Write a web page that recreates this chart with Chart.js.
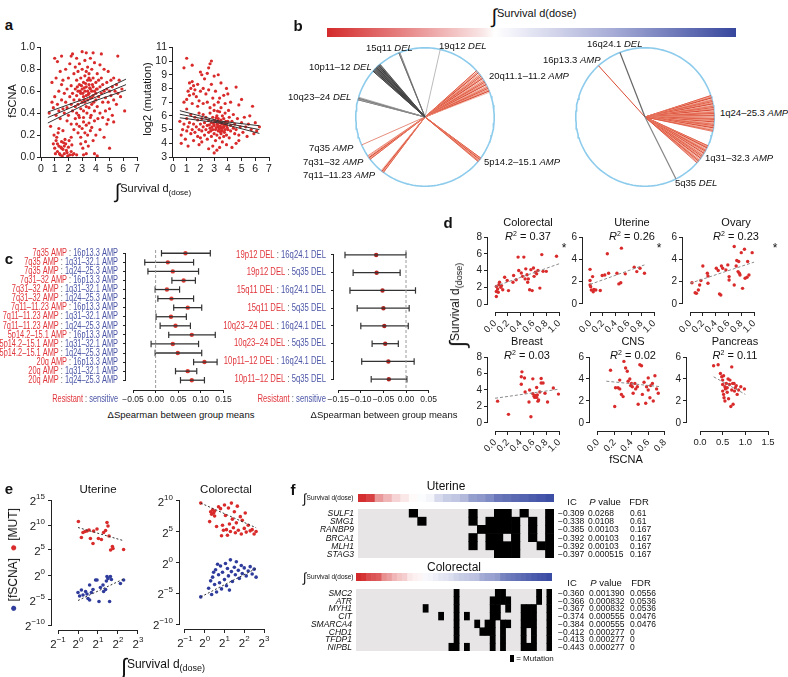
<!DOCTYPE html>
<html><head><meta charset="utf-8">
<script src="https://cdn.jsdelivr.net/npm/chart.js@4.4.1/dist/chart.umd.min.js"></script>
<style>
body{margin:0;background:#fff;}
#fig{position:relative;width:788px;height:677px;overflow:hidden;font-family:"Liberation Sans",Arial,Helvetica,sans-serif;color:#111;}
#fig canvas{position:absolute;}
.t{position:absolute;white-space:nowrap;line-height:1;}
</style></head><body><div id="fig"></div><script>
// ---- panel a: survival vs fSCNA / log2(mutation) ----
const aTicksX = [0, 1, 2, 3, 4, 5, 6, 7];
const aTicksFscna = [0, 0.2, 0.4, 0.6, 0.8, 1.0];
const aTicksMut = [3, 4, 5, 6, 7, 8, 9, 10, 11];
const aFscna = [
  [0.9,0.12],[1.0,0.08],[1.1,0.15],[1.2,0.05],[1.3,0.1],[1.4,0.02],[1.5,0.14],[1.6,0.07],[1.7,0.03],[1.8,0.12],
  [1.9,0.04],[2.0,0.09],[2.1,0.02],[1.15,0.18],[1.35,0.03],[1.55,0.01],[1.75,0.16],[1.95,0.01],[2.2,0.05],[2.3,0.02],
  [1.05,0.03],[0.95,0.2],[1.25,0.22],[1.45,0.09],[1.65,0.13],[1.85,0.06],[2.05,0.15],[2.25,0.11],[2.4,0.03],[2.6,0.02],
  [3.1,0.02],[3.3,0.03],[3.9,0.03],[4.1,0.01],[1.3,0.26],[1.6,0.24],[1.2,0.12],[1.5,0.08],[1.7,0.1],[2.2,0.18],
  [2.4,0.25],[2.6,0.3],[2.7,0.22],[2.8,0.28],[2.9,0.18],[3.0,0.26],[3.1,0.32],[3.2,0.22],[3.3,0.29],[3.4,0.2],
  [3.5,0.31],[3.6,0.24],[3.7,0.27],[3.8,0.15],[2.5,0.35],[2.9,0.12],[3.05,0.08],[3.25,0.14],[3.45,0.1],[4.0,0.2],
  [4.3,0.25],[4.6,0.18],[5.0,0.08],[5.3,0.32],[4.8,0.3],[2.2,0.3],[1.9,0.33],[3.9,0.33],[3.6,0.36],[2.75,0.38],
  [0.6,0.4],[0.7,0.28],[0.8,0.5],[0.8,0.68],[0.9,0.45],[1.0,0.9],[1.0,0.55],[1.1,0.38],[1.1,0.72],[1.2,0.48],
  [1.2,0.87],[1.3,0.6],[1.3,0.42],[1.4,0.78],[1.4,0.35],[1.5,0.52],[1.5,0.66],[1.6,0.44],[1.6,0.7],[1.7,0.58],
  [1.7,0.4],[1.8,0.8],[1.8,0.5],[1.9,0.62],[1.9,0.45],[2.0,0.72],[2.0,0.38],[2.1,0.55],[2.1,0.85],[2.2,0.48],
  [2.2,0.65],[2.3,0.94],[2.3,0.58],[2.3,0.42],[2.4,0.76],[2.4,0.52],[2.5,0.62],[2.5,0.82],[2.5,0.46],[2.6,0.56],
  [2.6,0.7],[2.6,0.9],[2.7,0.6],[2.7,0.48],[2.7,0.78],[2.8,0.52],[2.8,0.66],[2.8,0.85],[2.9,0.58],[2.9,0.44],
  [2.9,0.72],[3.0,0.62],[3.0,0.5],[3.0,0.8],[3.0,0.96],[3.1,0.55],[3.1,0.68],[3.1,0.42],[3.2,0.6],[3.2,0.74],
  [3.2,0.5],[3.2,0.88],[3.3,0.56],[3.3,0.64],[3.3,0.46],[3.3,0.95],[3.4,0.6],[3.4,0.7],[3.4,0.52],[3.4,0.82],
  [3.5,0.58],[3.5,0.66],[3.5,0.45],[3.5,0.76],[3.6,0.62],[3.6,0.54],[3.6,0.9],[3.6,0.7],[3.7,0.6],[3.7,0.48],
  [3.7,0.8],[3.8,0.64],[3.8,0.56],[3.8,0.72],[3.9,0.6],[3.9,0.42],[3.9,0.86],[4.0,0.68],[4.0,0.52],[4.0,0.58],
  [4.1,0.62],[4.1,0.76],[4.1,0.46],[4.2,0.55],[4.2,0.7],[4.3,0.64],[4.3,0.4],[4.3,0.84],[4.4,0.58],[4.4,0.72],
  [4.5,0.5],[4.5,0.66],[4.6,0.6],[4.6,0.8],[4.7,0.54],[4.7,0.42],[4.8,0.68],[4.8,0.62],[4.9,0.5],[4.9,0.78],
  [5.0,0.6],[5.0,0.44],[5.1,0.7],[5.1,0.56],[5.2,0.64],[5.3,0.52],[5.3,0.72],[5.4,0.6],[5.5,0.48],[5.5,0.66],
  [5.6,0.58],[5.7,0.7],[5.8,0.55],[5.9,0.62],[6.1,0.42],[5.6,0.92],[4.4,0.94],[3.8,0.95],[4.5,0.36],[5.2,0.38],
  [4.9,0.34],[2.2,0.92],[1.5,0.92],[2.6,0.4],[2.8,0.36],[3.1,0.36],[3.35,0.4],[3.65,0.38],[4.15,0.35],[3.15,0.63],
  [3.45,0.57],[3.55,0.63],[3.25,0.67],[3.75,0.66],[2.95,0.65],[3.05,0.58],[3.85,0.5],[2.85,0.6],[3.15,0.52],[3.7,0.54],
  [3.5,0.72],[3.3,0.78],[2.65,0.64],[4.05,0.62]
];
const aMut = [
  [1.0,10.2],[0.8,9.5],[1.4,9.7],[2.0,9.2],[2.1,9.0],[2.7,9.8],[2.8,10.0],[2.6,9.5],[2.5,9.1],[3.0,8.9],
  [3.3,9.0],[2.3,8.7],[1.2,8.4],[1.4,8.5],[1.5,8.2],[1.3,8.0],[1.6,7.9],[1.1,7.8],[1.8,8.3],[1.0,7.2],
  [1.2,7.5],[1.5,7.6],[1.7,7.4],[1.9,7.1],[2.0,7.8],[2.2,8.0],[2.4,7.6],[2.6,7.9],[2.8,8.3],[2.9,7.3],
  [3.1,7.8],[3.3,7.0],[3.5,8.4],[3.7,7.5],[3.9,8.0],[4.2,7.0],[4.6,8.1],[5.0,7.2],[4.8,6.8],[2.2,6.9],
  [2.5,7.0],[2.7,6.6],[3.0,6.8],[1.4,6.9],[1.0,6.5],[0.8,7.0],[3.4,7.3],[3.8,6.9],[4.0,7.6],[1.8,6.7],
  [0.5,5.6],[0.6,4.6],[0.7,5.0],[0.8,5.4],[0.9,4.3],[1.0,5.8],[1.0,4.9],[1.1,5.2],[1.1,3.8],[1.2,5.5],
  [1.3,4.7],[1.3,6.1],[1.4,5.0],[1.5,5.4],[1.5,4.2],[1.6,5.9],[1.6,4.8],[1.7,5.2],[1.8,4.5],[1.8,5.7],
  [1.9,5.0],[1.9,6.2],[2.0,5.4],[2.0,4.4],[2.1,5.8],[2.1,4.9],[2.2,5.2],[2.2,6.1],[2.3,4.6],[2.3,5.5],
  [2.4,5.0],[2.4,5.9],[2.5,4.3],[2.5,5.3],[2.6,5.7],[2.6,4.8],[2.7,5.1],[2.7,6.2],[2.8,4.5],[2.8,5.5],
  [2.9,5.0],[2.9,5.9],[3.0,4.7],[3.0,5.3],[3.0,6.4],[3.1,5.6],[3.1,4.2],[3.1,5.0],[3.2,5.4],[3.2,6.0],
  [3.2,4.6],[3.3,5.2],[3.3,5.8],[3.3,4.9],[3.4,5.5],[3.4,4.4],[3.4,6.3],[3.5,5.1],[3.5,5.7],[3.5,4.7],
  [3.6,5.4],[3.6,6.0],[3.6,4.9],[3.7,5.2],[3.7,5.8],[3.7,4.5],[3.8,5.5],[3.8,5.0],[3.8,6.2],[3.9,5.3],
  [3.9,4.6],[4.0,5.6],[4.0,5.0],[4.1,5.9],[4.1,4.4],[4.2,5.3],[4.2,4.9],[4.3,5.6],[4.4,5.1],[4.4,6.1],
  [4.5,4.7],[4.5,5.4],[4.6,5.0],[4.7,5.8],[4.8,4.6],[4.9,5.2],[5.0,5.5],[5.1,4.8],[5.2,5.9],[5.3,5.2],
  [5.4,4.5],[5.5,5.4],[5.6,6.0],[5.7,5.0],[5.9,4.7],[6.0,5.5],[6.1,4.9],[6.3,5.2],[5.8,6.7],[3.4,3.7],
  [2.9,3.8],[3.0,3.3],[3.9,3.9],[4.3,3.7],[4.6,4.0],[2.6,3.6],[1.9,3.9],[3.2,3.5],[4.8,4.2],[0.6,4.0],
  [2.1,4.1],[3.6,4.1],[3.15,5.15],[3.25,5.35],[3.35,5.05],[3.45,5.25],[3.55,5.45],[3.65,5.15],[3.75,5.35],[3.85,5.6],
  [2.95,5.45],[3.05,5.65],[3.15,5.85],[3.35,5.6],[3.45,4.85],[3.55,4.95],[3.75,4.8],[3.95,5.15],[2.85,5.2],[2.75,4.9],
  [2.65,5.35],[3.25,6.35],[3.5,6.6],[4.05,6.4]
];
const aFitX = [0.5, 3.3, 6.2];
const aFscnaLo = [0.31, 0.485, 0.61], aFscnaMid = [0.36, 0.51, 0.66], aFscnaHi = [0.41, 0.535, 0.71];
const aMutFitX = [0.5, 3.4, 6.3];
const aMutLo = [5.86, 5.48, 4.72], aMutMid = [6.12, 5.55, 5.0], aMutHi = [6.38, 5.62, 5.28];

// ---- panel b: fan angles (degrees clockwise from top) ----
const b15q11 = [-22.2, -21.3];
const b19q12 = [12.7];
const b10p11 = [-48.6, -47.9, -47.1, -46.4, -45.8, -45.0, -44.3, -43.7, -43.0, -42.3, -41.7, -41.0, -40.4];
const b10q23 = [-75.6, -74.9, -74.2, -73.4];
const b20q = [48.1, 49.3, 50.4, 51.7, 52.8, 54.0, 55.2, 56.2, 57.5, 58.7, 59.8, 61.0, 62.1, 63.4, 64.5, 65.6, 66.8, 67.9, 69.0];
const b5p = [126.4, 127.2, 128.0, 128.7, 129.4, 130.1];
const b7q35 = [-113.8];
const b7q31 = [-127.6, -126.7, -125.9, -125.0, -124.1];
const b7q11 = [-143.1, -142.3, -141.5, -140.7];
const b16q24 = [-21.2];
const b5q35 = [153.4];
const b16p13 = [-42.2];
const b1q24 = [72.0, 73.1, 74.0, 75.1, 76.0, 77.1, 78.0, 79.0, 80.1, 81.0, 82.1, 83.0, 84.0, 85.1, 86.0, 87.0, 88.1, 89.0, 90.0, 91.1, 92.0, 93.0, 94.1, 95.0, 96.0, 97.1, 98.0, 99.0, 100.0, 101.1, 102.0];
const b1q31 = [114.6, 115.6, 116.5, 117.5, 118.6, 119.5, 120.5, 121.6, 122.5, 123.5, 124.6, 125.5, 126.5, 127.5, 128.6, 129.5, 130.5, 131.4];
const bGradStops = [[0, '#d42b2b'], [0.2, '#e88a8a'], [0.38, '#f9e6e6'], [0.41, '#ffffff'], [0.45, '#f3f3fa'], [0.7, '#a6acd6'], [1, '#37479d']];

// ---- panel c: forest plots ----
const cAmpRes = ['7q35 AMP','7q35 AMP','7q35 AMP','7q31–32 AMP','7q31–32 AMP','7q31–32 AMP','7q11–11.23 AMP','7q11–11.23 AMP','7q11–11.23 AMP','5p14.2–15.1 AMP','5p14.2–15.1 AMP','5p14.2–15.1 AMP','20q AMP','20q AMP','20q AMP'];
const cAmpSen = ['16p13.3 AMP','1q31–32.1 AMP','1q24–25.3 AMP','16p13.3 AMP','1q31–32.1 AMP','1q24–25.3 AMP','16p13.3 AMP','1q31–32.1 AMP','1q24–25.3 AMP','16p13.3 AMP','1q31–32.1 AMP','1q24–25.3 AMP','16p13.3 AMP','1q31–32.1 AMP','1q24–25.3 AMP'];
const cAmpMean = [0.066, 0.027, 0.038, 0.062, 0.025, 0.035, 0.071, 0.034, 0.044, 0.080, 0.038, 0.049, 0.108, 0.071, 0.080];
const cAmpLo = [0.013, -0.024, -0.017, 0.036, -0.001, 0.005, 0.040, 0.001, 0.010, 0.029, -0.010, -0.001, 0.084, 0.044, 0.055];
const cAmpHi = [0.121, 0.084, 0.095, 0.088, 0.053, 0.084, 0.102, 0.068, 0.077, 0.132, 0.095, 0.102, 0.136, 0.091, 0.108];
const cAmpTicks = [-0.05, 0, 0.05, 0.10, 0.15];
const cDelRes = ['19p12 DEL','19p12 DEL','15q11 DEL','15q11 DEL','10q23–24 DEL','10q23–24 DEL','10p11–12 DEL','10p11–12 DEL'];
const cDelSen = ['16q24.1 DEL','5q35 DEL','16q24.1 DEL','5q35 DEL','16q24.1 DEL','5q35 DEL','16q24.1 DEL','5q35 DEL'];
const cDelMean = [-0.066, -0.065, -0.052, -0.050, -0.048, -0.046, -0.039, -0.038];
const cDelLo = [-0.135, -0.117, -0.124, -0.108, -0.100, -0.075, -0.098, -0.077];
const cDelHi = [0.000, -0.013, 0.021, 0.007, 0.005, -0.017, 0.018, 0.002];
const cDelTicks = [-0.15, -0.10, -0.05, 0, 0.05];

// ---- panel d: survival vs fSCNA by tissue ----
const dColorectal = [[0.02,0.9],[0.02,1.5],[0.02,2.1],[0.04,1.8],[0.06,2.3],[0.07,2.6],[0.1,2.2],[0.12,1.7],[0.15,3.2],[0.19,2.8],[0.21,1.6],[0.28,2.6],[0.29,3.4],[0.36,5.6],[0.37,4.0],[0.41,3.7],[0.43,3.3],[0.45,5.6],[0.47,3.0],[0.48,4.2],[0.5,3.5],[0.51,2.6],[0.52,3.0],[0.54,1.7],[0.58,1.6],[0.6,4.3],[0.61,3.3],[0.63,3.8],[0.65,3.6],[0.67,4.0],[0.7,1.9],[0.73,5.9],[0.75,3.9],[0.8,3.9],[0.96,5.7],[0.05,1.4],[0.09,2.0],[0.33,2.9],[0.56,4.1]];
const dUterine = [[0.0,3.1],[0.0,2.1],[0.0,1.7],[0.01,1.55],[0.02,1.25],[0.05,1.1],[0.06,1.3],[0.09,1.25],[0.04,2.45],[0.16,1.2],[0.19,2.55],[0.23,2.6],[0.27,4.5],[0.29,2.75],[0.42,2.75],[0.45,1.8],[0.48,1.9],[0.49,5.0],[0.55,2.7],[0.69,3.3],[0.73,2.9],[0.78,3.2],[0.85,2.75]];
const dOvary = [[0.03,1.9],[0.08,1.0],[0.1,0.95],[0.13,1.25],[0.15,1.7],[0.17,2.1],[0.2,3.4],[0.27,2.75],[0.28,2.5],[0.28,1.85],[0.41,3.2],[0.44,3.0],[0.46,0.9],[0.48,0.8],[0.49,3.4],[0.51,3.2],[0.56,3.05],[0.59,3.5],[0.61,2.45],[0.61,2.15],[0.69,5.15],[0.69,1.7],[0.72,3.4],[0.73,3.9],[0.76,3.8],[0.77,2.75],[0.78,2.6],[0.8,4.6],[0.82,1.4],[0.85,4.9],[0.86,2.3],[0.89,2.4],[0.92,2.6],[0.97,4.6],[0.9,3.8],[0.75,2.9]];
const dBreast = [[0.04,2.65],[0.21,1.05],[0.42,6.2],[0.41,5.6],[0.41,4.7],[0.46,5.45],[0.47,3.75],[0.53,2.55],[0.54,4.0],[0.56,0.75],[0.59,5.35],[0.59,3.55],[0.61,3.25],[0.62,3.1],[0.63,3.35],[0.65,3.1],[0.66,3.4],[0.67,2.65],[0.68,2.8],[0.7,3.75],[0.72,5.4],[0.72,4.85],[0.75,4.85],[0.78,3.6],[0.82,2.55],[0.91,4.25],[0.99,3.5],[0.65,4.3]];
const dCNS = [[0.15,4.8],[0.2,1.5],[0.21,3.2],[0.24,3.2],[0.26,3.1],[0.28,2.6],[0.3,2.4],[0.31,5.6],[0.33,5.0],[0.35,4.7],[0.36,3.8],[0.38,4.0],[0.39,3.4],[0.41,3.3],[0.42,2.7],[0.44,3.6],[0.45,3.1],[0.47,3.3],[0.48,1.7],[0.5,5.3],[0.52,5.2],[0.53,2.6],[0.55,3.7],[0.57,1.8],[0.58,3.3],[0.6,4.1],[0.6,3.0],[0.62,2.3],[0.63,3.4],[0.65,3.6],[0.66,2.0],[0.68,4.3],[0.7,3.1],[0.72,2.7],[0.26,3.9],[0.4,3.6]];
const dPancreas = [[0.3,5.2],[0.4,5.3],[0.45,4.5],[0.48,4.2],[0.5,3.9],[0.52,4.3],[0.5,2.9],[0.52,2.6],[0.53,2.3],[0.55,3.3],[0.56,3.1],[0.58,3.6],[0.6,3.2],[0.6,2.8],[0.62,4.0],[0.63,2.2],[0.65,3.5],[0.66,3.9],[0.68,1.5],[0.7,5.1],[0.7,3.0],[0.72,3.6],[0.73,1.7],[0.75,3.6],[0.76,2.9],[0.78,3.2],[0.8,3.4],[0.82,2.6],[0.85,3.0],[0.9,3.3],[0.98,3.1],[0.5,3.5],[0.55,2.0]];
const dTrend = {
  colorectal: [[0, 2.1], [1.0, 4.8]], uterine: [[0, 1.75], [0.85, 3.5]], ovary: [[0, 1.85], [1.0, 3.75]],
  breast: [[0, 3.0], [1.0, 4.1]], cns: [[0.1, 3.8], [0.75, 3.3]], pancreas: [[0.3, 4.2], [1.0, 2.6]]
};
const dTicks01 = [0, 0.2, 0.4, 0.6, 0.8, 1.0];
const dTicks08 = [0, 0.2, 0.4, 0.6, 0.8];
const dTicksPan = [0, 0.5, 1.0, 1.5];

// ---- panel e: log2 values (exponents) ----
const eUtMut = [[0.02,10.7],[0.17,7.5],[0.25,8.5],[0.35,8.7],[0.45,8.8],[0.55,9.0],[0.62,7.3],[0.75,6.3],[0.78,8.8],[0.95,9.2],[1.02,7.3],[1.17,7.1],[1.28,8.5],[1.38,8.9],[1.45,10.5],[1.5,9.8],[1.55,7.8],[1.63,5.0],[1.72,5.7],[1.75,5.3],[2.28,5.1]];
const eUtScna = [[0,-3.5],[0.17,-3.0],[0.25,-4.0],[0.38,-3.3],[0.5,-4.7],[0.58,-2.0],[0.67,-3.5],[0.75,-2.9],[0.88,-1.0],[0.95,-1.0],[1.05,-5.3],[1.25,-2.0],[1.38,-2.9],[1.42,-1.2],[1.45,-0.3],[1.5,-0.7],[1.62,-0.3],[1.67,-0.9],[1.58,-5.3],[2.12,-1.7],[2.28,-1.0],[0.08,-4.2],[0.45,-3.8],[0.58,-5.0],[1.12,-2.5],[1.28,-3.3]];
const eCoMut = [[-0.2,9.6],[0.3,8.2],[0.35,7.8],[0.4,8.5],[0.45,8.0],[0.5,8.3],[0.5,7.5],[0.6,5.8],[0.7,9.0],[0.8,8.7],[0.85,4.3],[0.9,6.0],[1.0,9.3],[1.05,7.6],[1.1,5.3],[1.2,8.8],[1.25,6.2],[1.3,5.0],[1.35,9.6],[1.4,7.0],[1.45,5.6],[1.5,8.2],[1.55,4.8],[1.6,6.4],[1.65,9.1],[1.7,5.2],[1.8,7.4],[1.85,4.6],[1.9,6.8],[2.0,5.5],[2.05,8.0],[2.1,4.9],[2.2,6.0],[2.3,5.1],[2.4,5.3],[2.5,4.6],[2.6,5.0],[0.25,6.6],[1.15,4.4],[0.95,5.2]];
const eCoScna = [[-0.2,-5.6],[0.2,-4.2],[0.3,-3.0],[0.35,-5.2],[0.4,-2.4],[0.5,-3.6],[0.55,-1.2],[0.6,-4.8],[0.7,-2.0],[0.75,-3.3],[0.8,-0.6],[0.85,-4.3],[0.9,-1.6],[1.0,-2.8],[1.05,-0.2],[1.1,-3.8],[1.15,-1.0],[1.2,-2.2],[1.3,0.4],[1.35,-1.5],[1.4,-3.1],[1.5,-0.8],[1.55,-2.0],[1.6,0.1],[1.7,-1.3],[1.75,-2.6],[1.85,-0.5],[1.9,-1.8],[2.0,-0.9],[2.1,-2.2],[2.2,-1.4],[2.3,-0.7],[2.4,-1.9],[2.5,-1.1],[2.6,-2.4],[0.65,-0.3],[1.25,-4.5],[0.45,-1.6]];
const eUtTrendMut = [[0, 9.5], [2.25, 6.9]], eUtTrendScna = [[0, -5.1], [2.33, -0.7]];
const eCoTrendMut = [[-0.2, 9.6], [2.6, 5.6]], eCoTrendScna = [[-0.2, -5.6], [2.6, -1.0]];
const eTicksX = [-1, 0, 1, 2, 3];
const eTicksUtY = [-10, -5, 0, 5, 10, 15];
const eTicksCoY = [-10, -5, 0, 5, 10];

// ---- panel f: mutation heatmaps ----
const fUtGenes = ['SULF1', 'SMG1', 'RANBP9', 'BRCA1', 'MLH1', 'STAG3'];
const fUtMut = [[6,13,16,17,19,22],[7,13,15,16,17,18,20,22],[14,15,16,17,18,20,22],[13,15,16,18,20,22],[13,15,16,17,18,21,22],[16,17,18,22]];
const fUtSurv = [0.02,0.06,0.24,0.3,0.36,0.4,0.44,0.46,0.48,0.56,0.6,0.62,0.66,0.74,0.76,0.8,0.86,0.88,0.9,0.92,0.94,0.96,0.98];
const fUtIC = ['−0.309','−0.338','−0.385','−0.392','−0.392','−0.397'];
const fUtP = ['0.0268','0.0108','0.00103','0.00103','0.00103','0.000515'];
const fUtFDR = ['0.61','0.61','0.167','0.167','0.167','0.167'];
const fCoGenes = ['SMC2', 'ATR', 'MYH1', 'CIT', 'SMARCA4', 'CHD1', 'TFDP1', 'NIPBL'];
const fCoMut = [[19,27,28,35,37],[19,26,27,28,29,35,37],[13,19,26,27,29,32,33,34,37],[16,19,21,26,27,32,33,34,37],[19,23,25,26,28,29,32,33,34,37],[19,24,25,26,28,32,34,37],[19,26,28,32,34,37],[18,19,21,26,28,32,33,34,37]];
const fCoSurv = [0.01,0.03,0.08,0.1,0.12,0.22,0.25,0.3,0.33,0.35,0.4,0.42,0.43,0.47,0.48,0.5,0.52,0.53,0.55,0.58,0.6,0.61,0.63,0.64,0.7,0.72,0.73,0.75,0.82,0.84,0.86,0.88,0.9,0.92,0.94,0.96,0.97,0.99];
const fCoIC = ['−0.360','−0.366','−0.367','−0.374','−0.384','−0.412','−0.413','−0.443'];
const fCoP = ['0.001390','0.000832','0.000832','0.000555','0.000555','0.000277','0.000277','0.000277'];
const fCoFDR = ['0.0556','0.0536','0.0536','0.0476','0.0476','0','0','0'];

// ================= helpers =================
const FONT = '"Liberation Sans", Arial, Helvetica, sans-serif';
Chart.defaults.font.family = FONT;
const RED = '#d92b2b', BLUE = '#2f3c9c', LRED = '#e0353b', LBLUE = '#4b55a6';
const fig = document.getElementById('fig');

function addCanvas(l, t, w, h) {
  const c = document.createElement('canvas');
  c.width = w; c.height = h;
  c.style.left = l + 'px'; c.style.top = t + 'px';
  c.style.width = w + 'px'; c.style.height = h + 'px';
  fig.appendChild(c);
  return c;
}
function txt(x, y, html, o = {}) {
  const d = document.createElement('div');
  d.className = 't';
  d.innerHTML = html;
  d.style.left = x + 'px'; d.style.top = y + 'px';
  d.style.fontSize = (o.size || 10) + 'px';
  if (o.color) d.style.color = o.color;
  if (o.bold) d.style.fontWeight = 'bold';
  if (o.italic) d.style.fontStyle = 'italic';
  const ax = o.align === 'left' ? '0' : o.align === 'right' ? '-100%' : '-50%';
  d.style.transform = `translate(${ax},-50%)` + (o.rot ? ` rotate(${o.rot}deg)` : '');
  fig.appendChild(d);
  return d;
}
function integ(size, sub) {
  return `<span style="font-size:${Math.round(size * 1.8)}px;vertical-align:-0.28em">∫</span>Survival d` +
    (sub ? `<span style="font-size:${Math.round(size * 0.72)}px;vertical-align:-0.35em">(dose)</span>` : '(dose)');
}
const pts = arr => arr.map(p => ({ x: p[0], y: p[1] }));

// R-style axis lines running from first to last tick
const rAxes = {
  id: 'rAxes',
  afterDraw(chart) {
    const { ctx, chartArea: a, scales } = chart;
    ctx.save(); ctx.strokeStyle = '#222'; ctx.lineWidth = 1;
    const x = scales.x, y = scales.y;
    if (x && x.ticks.length) {
      const x0 = x.getPixelForValue(x.ticks[0].value), x1 = x.getPixelForValue(x.ticks[x.ticks.length - 1].value);
      ctx.beginPath(); ctx.moveTo(x0, a.bottom + 0.5); ctx.lineTo(x1, a.bottom + 0.5); ctx.stroke();
    }
    if (y && y.ticks.length) {
      const y0 = y.getPixelForValue(y.ticks[0].value), y1 = y.getPixelForValue(y.ticks[y.ticks.length - 1].value);
      ctx.beginPath(); ctx.moveTo(a.left - 0.5, y0); ctx.lineTo(a.left - 0.5, y1); ctx.stroke();
    }
    ctx.restore();
  }
};

function lin(min, max, ticks, o = {}) {
  return {
    type: 'linear', min, max, reverse: !!o.reverse,
    afterBuildTicks: s => { s.ticks = ticks.map(v => ({ value: v })); },
    grid: { drawOnChartArea: false, drawTicks: true, tickLength: o.tl || 4, color: '#222', lineWidth: 1 },
    border: { display: false },
    ticks: {
      display: o.labels !== false, color: '#222', font: { size: o.fs || 10 }, padding: o.pad ?? 2,
      autoSkip: false, minRotation: o.rot || 0, maxRotation: o.rot || 0,
      callback: o.fmt || (v => String(v))
    }
  };
}

function rChart(a, xs, ys, datasets, extra) {
  const PT = 8, PR = 16, YW = a.yw || 30, XH = a.xh || 20;
  const c = addCanvas(a.l - YW, a.t - PT, (a.r - a.l) + YW + PR, (a.b - a.t) + PT + XH);
  xs.afterFit = s => { s.height = XH; };
  ys.afterFit = s => { s.width = YW; };
  return new Chart(c, {
    type: 'scatter', data: { datasets },
    options: {
      animation: false, responsive: false, events: [],
      layout: { padding: { top: PT, right: PR, left: 0, bottom: 0 } },
      plugins: { legend: { display: false }, tooltip: { enabled: false } },
      scales: { x: xs, y: ys }
    },
    plugins: [rAxes].concat(extra || [])
  });
}
const dots = (arr, color, r) => ({ data: pts(arr), pointRadius: r || 1.7, pointBorderWidth: 0, backgroundColor: color, pointBackgroundColor: color });
const line = (arr, color, w, dash) => ({ data: pts(arr), showLine: true, pointRadius: 0, borderColor: color, borderWidth: w || 1, borderDash: dash || [] });
const zip = (xs, ys) => xs.map((x, i) => [x, ys[i]]);

// ================= panel a =================
const f1 = v => v.toFixed(1);
rChart({ l: 41, t: 47, r: 137, b: 157, yw: 30, xh: 22 },
  lin(0, 7, aTicksX, { fs: 10.5 }), lin(0, 1, aTicksFscna, { fs: 10.5, fmt: f1 }),
  [line(zip(aFitX, aFscnaHi), '#333', 1), line(zip(aFitX, aFscnaMid), '#333', 1), line(zip(aFitX, aFscnaLo), '#333', 1),
   dots(aFscna, RED, 1.6)]);
rChart({ l: 173, t: 47, r: 269, b: 157, yw: 22, xh: 22 },
  lin(0, 7, aTicksX, { fs: 10.5 }), lin(3, 11, aTicksMut, { fs: 10.5 }),
  [line(zip(aMutFitX, aMutHi), '#333', 1), line(zip(aMutFitX, aMutMid), '#333', 1), line(zip(aMutFitX, aMutLo), '#333', 1),
   dots(aMut, RED, 1.6)]);
txt(9, 24, 'a', { size: 15, bold: true });
txt(12, 101, 'fSCNA', { size: 11, rot: -90 });
txt(147, 99, 'log2 (mutation)', { size: 11, rot: -90 });
txt(153, 191, integ(11, true), { size: 11 });

// ================= panel b =================
const bar1 = (l, t, w, h, colors) => {
  const c = addCanvas(l, t, w, h);
  return new Chart(c, {
    type: 'bar',
    data: { labels: colors.map((_, i) => i), datasets: [{ data: colors.map(() => [0, 1]), backgroundColor: colors, barPercentage: 1, categoryPercentage: 1, borderWidth: 0 }] },
    options: { animation: false, responsive: false, events: [], layout: { padding: 0 },
      plugins: { legend: { display: false }, tooltip: { enabled: false } },
      scales: { x: { display: false }, y: { display: false, min: 0, max: 1 } } }
  });
};
{
  const c = addCanvas(327, 28, 409, 9);
  new Chart(c, {
    type: 'bar',
    data: { labels: [''], datasets: [{ data: [[0, 1]], barPercentage: 1, categoryPercentage: 1, borderWidth: 0,
      backgroundColor: ctx => {
        const a = ctx.chart.chartArea; if (!a) return '#ccc';
        const g = ctx.chart.ctx.createLinearGradient(a.left, 0, a.right, 0);
        bGradStops.forEach(s => g.addColorStop(s[0], s[1]));
        return g;
      } }] },
    options: { indexAxis: 'y', animation: false, responsive: false, events: [], layout: { padding: 0 },
      plugins: { legend: { display: false }, tooltip: { enabled: false } },
      scales: { x: { display: false, min: 0, max: 1 }, y: { display: false } } }
  });
}
txt(534, 16, integ(11, false), { size: 11 });
txt(298, 25, 'b', { size: 15, bold: true });

const REDS = ['#e0563e', '#ee8b73', '#d6422f', '#f2a38f', '#e56d55'];
function fan(angles, palette, w) {
  const data = [];
  angles.forEach(d => { const t = d * Math.PI / 180; data.push({ x: 0, y: 0 }, { x: Math.sin(t), y: Math.cos(t) }); });
  return { data, showLine: true, pointRadius: 0, borderWidth: w || 0.8, borderJoinStyle: 'bevel', borderColor: palette[0],
    segment: { borderColor: ctx => palette[Math.floor(ctx.p0DataIndex / 2) % palette.length] } };
}
function circleChart(cx, cy, fans) {
  const S = 144, c = addCanvas(cx - S / 2, cy - S / 2, S, S);
  const ring = [];
  for (let k = 0; k <= 144; k++) { const t = k / 144 * 2 * Math.PI; ring.push({ x: Math.sin(t), y: Math.cos(t) }); }
  const ds = fans.slice();
  ds.push({ data: ring, showLine: true, pointRadius: 0, borderColor: '#8ccbec', borderWidth: 1.6 });
  new Chart(c, {
    type: 'scatter', data: { datasets: ds },
    options: { animation: false, responsive: false, events: [], layout: { padding: 0 },
      plugins: { legend: { display: false }, tooltip: { enabled: false } },
      scales: { x: { display: false, min: -1.04, max: 1.04 }, y: { display: false, min: -1.04, max: 1.04 } } }
  });
}
circleChart(425, 117, [
  fan(b10p11, ['#3a3a3a', '#555', '#2e2e2e', '#666']), fan(b10q23, ['#777', '#999']), fan(b15q11, ['#666']), fan(b19q12, ['#aaa']),
  fan(b20q, REDS), fan(b5p, REDS), fan(b7q35, ['#e0705a']), fan(b7q31, REDS), fan(b7q11, REDS)
]);
circleChart(645, 117, [
  fan(b16q24, ['#666'], 1.2), fan(b5q35, ['#888'], 1.2), fan(b16p13, ['#d9472f'], 1), fan(b1q24, REDS), fan(b1q31, REDS)
]);
const bLab = (x, y, name, kind) => txt(x, y, `${name} <i>${kind}</i>`, { size: 9.5, align: 'left' });
bLab(366, 48, '15q11', 'DEL'); bLab(439, 46, '19q12', 'DEL'); bLab(309, 67, '10p11–12', 'DEL');
bLab(288, 97, '10q23–24', 'DEL'); bLab(489, 76, '20q11.1–11.2', 'AMP'); bLab(309, 148, '7q35', 'AMP');
bLab(303, 162, '7q31–32', 'AMP'); bLab(303, 175, '7q11–11.23', 'AMP'); bLab(484, 162, '5p14.2–15.1', 'AMP');
bLab(587, 44, '16q24.1', 'DEL'); bLab(543, 60, '16p13.3', 'AMP'); bLab(720, 113, '1q24–25.3', 'AMP');
bLab(705, 158, '1q31–32.3', 'AMP'); bLab(675, 183, '5q35', 'DEL');

// ================= panel c =================
function forestLabels(res, sen, squeeze) {
  return {
    id: 'forestLabels',
    afterDraw(chart) {
      const { ctx, chartArea: a, scales } = chart;
      ctx.save(); ctx.font = '10px ' + FONT; ctx.textBaseline = 'middle'; ctx.textAlign = 'right';
      const put = (xr, y, r, s) => {
        ctx.save(); ctx.translate(xr, y); ctx.scale(squeeze, 1);
        const ws = ctx.measureText(s).width, wc = ctx.measureText(' : ').width;
        ctx.fillStyle = LBLUE; ctx.fillText(s, 0, 0);
        ctx.fillStyle = '#555'; ctx.fillText(' : ', -ws, 0);
        ctx.fillStyle = LRED; ctx.fillText(r, -ws - wc, 0);
        ctx.restore();
      };
      res.forEach((r, i) => put(a.left - 8, scales.y.getPixelForValue(i), r, sen[i]));
      put(a.left - 8, a.bottom + 9, 'Resistant', 'sensitive');
      ctx.restore();
    }
  };
}
function forest(a, xmin, xmax, ymin, ymax, ticks, res, sen, mean, lo, hi, dotColor, squeeze) {
  const ds = [line([[0, ymin], [0, ymax]], '#9a9a9a', 1, [3, 2])];
  mean.forEach((m, i) => ds.push({ data: [{ x: lo[i], y: i }, { x: hi[i], y: i }], showLine: true, borderColor: '#333', borderWidth: 1.3,
    pointStyle: 'line', pointRotation: 90, pointRadius: 3.2, pointBorderColor: '#333', pointBorderWidth: 1.2 }));
  ds.push(dots(mean.map((m, i) => [m, i]), dotColor, 2.2));
  const fx = v => v === 0 ? '0.00' : (v < 0 ? '−' : '') + Math.abs(v).toFixed(2);
  rChart(a, lin(xmin, xmax, ticks, { fs: 8.5, fmt: fx, tl: 3 }),
    lin(ymin, ymax, res.map((_, i) => i), { reverse: true, labels: false, tl: 3 }), ds, [forestLabels(res, sen, squeeze)]);
}
forest({ l: 126, t: 250, r: 226, b: 390, yw: 126, xh: 18 }, -0.0655, 0.1557, -0.36, 15.08, cAmpTicks,
  cAmpRes, cAmpSen, cAmpMean, cAmpLo, cAmpHi, '#e23a32', 0.74);
forest({ l: 334, t: 250, r: 432, b: 390, yw: 134, xh: 18 }, -0.1593, 0.0575, -0.28, 7.61, cDelTicks,
  cDelRes, cDelSen, cDelMean, cDelLo, cDelHi, '#b3231e', 0.77);
txt(9, 258, 'c', { size: 15, bold: true });
txt(181, 415, 'ΔSpearman between group means', { size: 9.5 });
txt(384, 415, 'ΔSpearman between group means', { size: 9.5 });

// ================= panel d =================
const f1d = v => v.toFixed(1);
function dPlot(a, xmin, xmax, xt, ymin, ymax, yt, data, trend, rot) {
  rChart(Object.assign({ yw: 22, xh: rot ? 28 : 18 }, a),
    lin(xmin, xmax, xt, { fs: 9.5, fmt: f1d, rot: rot ? 45 : 0 }), lin(ymin, ymax, yt, { fs: 10 }),
    [line(trend, '#8a8a8a', 1, [3, 2]), dots(data, RED, 1.7)]);
}
dPlot({ l: 488, t: 237, r: 561, b: 312 }, -0.11, 1.03, dTicks01, -0.955, 8, [0, 2, 4, 6, 8], dColorectal, dTrend.colorectal, true);
dPlot({ l: 583, t: 237, r: 656, b: 312 }, -0.11, 1.03, dTicks01, -0.72, 6, [0, 2, 4, 6], dUterine, dTrend.uterine, true);
dPlot({ l: 683, t: 237, r: 756, b: 312 }, -0.11, 1.03, dTicks01, -0.72, 6, [0, 2, 4, 6], dOvary, dTrend.ovary, true);
dPlot({ l: 488, t: 357, r: 561, b: 431 }, -0.11, 1.03, dTicks01, -0.97, 8, [0, 2, 4, 6, 8], dBreast, dTrend.breast, true);
dPlot({ l: 590, t: 357, r: 668, b: 431 }, -0.095, 0.836, dTicks08, -0.73, 6, [0, 2, 4, 6], dCNS, dTrend.cns, true);
dPlot({ l: 687, t: 357, r: 770, b: 431 }, -0.287, 1.544, dTicksPan, -0.73, 6, [0, 2, 4, 6], dPancreas, dTrend.pancreas, false);
txt(448, 222, 'd', { size: 15, bold: true });
const r2 = v => `<i>R</i><span style="font-size:7px;vertical-align:0.5em">2</span> = ${v}`;
[['Colorectal', '0.37', 528, 222], ['Uterine', '0.26', 632, 222], ['Ovary', '0.23', 736, 222],
 ['Breast', '0.03', 527, 341], ['CNS', '0.02', 633, 341], ['Pancreas', '0.11', 735, 341]].forEach(t => {
  txt(t[2], t[3], t[0], { size: 11 });
  txt(t[2], t[3] + 14, r2(t[1]), { size: 11 });
});
txt(564, 248, '*', { size: 12 }); txt(659, 248, '*', { size: 12 }); txt(775, 248, '*', { size: 12 });
txt(458, 305, integ(12, true), { size: 12, rot: -90 });
txt(626, 459, 'fSCNA', { size: 11 });

// ================= panel e =================
const powTicks = {
  id: 'powTicks',
  afterDraw(chart) {
    const { ctx, chartArea: a, scales } = chart;
    ctx.save(); ctx.fillStyle = '#222'; ctx.textBaseline = 'middle'; ctx.textAlign = 'left';
    const draw = (v, x, y, align) => {
      const exp = String(v).replace('-', '−');
      ctx.font = '11.5px ' + FONT; const wb = ctx.measureText('2').width;
      ctx.font = '8px ' + FONT; const we = ctx.measureText(exp).width;
      const x0 = align === 'right' ? x - wb - we : x - (wb + we) / 2;
      ctx.font = '11.5px ' + FONT; ctx.fillText('2', x0, y + 2);
      ctx.font = '8px ' + FONT; ctx.fillText(exp, x0 + wb, y - 3);
    };
    scales.x.ticks.forEach(t => draw(t.value, scales.x.getPixelForValue(t.value), a.bottom + 13, 'center'));
    scales.y.ticks.forEach(t => draw(t.value, a.left - 7, scales.y.getPixelForValue(t.value), 'right'));
    ctx.restore();
  }
};
function ePlot(a, xmin, xmax, ymin, ymax, yt, mut, scna, tMut, tScna) {
  rChart(Object.assign({ yw: 40, xh: 22 }, a),
    lin(xmin, xmax, eTicksX, { labels: false }), lin(ymin, ymax, yt, { labels: false }),
    [line(tMut, '#333', 1, [2, 2]), line(tScna, '#333', 1, [2, 2]), dots(mut, '#d92b2b', 1.8), dots(scna, '#2f3c9c', 1.8)],
    [powTicks]);
}
ePlot({ l: 52, t: 500, r: 140, b: 630 }, -1.3, 3.1, -11, 15, eTicksUtY, eUtMut, eUtScna, eUtTrendMut, eUtTrendScna);
ePlot({ l: 180, t: 500, r: 266, b: 629 }, -1.25, 3.1, -10.8, 10.1, eTicksCoY, eCoMut, eCoScna, eCoTrendMut, eCoTrendScna);
txt(9, 488, 'e', { size: 15, bold: true });
txt(98, 490, 'Uterine', { size: 11.5 });
txt(226, 490, 'Colorectal', { size: 11.5 });
txt(13, 560, `<span style="color:${BLUE}">●</span> [fSCNA] &nbsp;<span style="color:${RED}">●</span> [MUT]`, { size: 12, rot: -90 });
txt(163, 667, integ(12, true), { size: 12 });

// ================= panel f =================
function survColor(v) {
  const red = [210, 36, 38], wht = [255, 255, 255], blu = [54, 72, 162];
  let c;
  if (v < 0.45) { const t = v / 0.45; c = red.map((r, i) => Math.round(r + (wht[i] - r) * t)); }
  else { const t = (v - 0.45) / 0.55; c = wht.map((w, i) => Math.round(w + (blu[i] - w) * t)); }
  return `rgb(${c.join(',')})`;
}
const grayBg = {
  id: 'grayBg',
  beforeDatasetsDraw(chart) {
    const { ctx, chartArea: a } = chart;
    ctx.save(); ctx.fillStyle = '#e7e5e5'; ctx.fillRect(a.left, a.top, a.right - a.left, a.bottom - a.top); ctx.restore();
  }
};
function heat(l, t, w, h, genes, muts, surv, cols) {
  const c = addCanvas(l, t, w, h);
  const labels = surv.map((_, i) => i);
  const ch = new Chart(c, {
    type: 'bar',
    data: { labels, datasets: genes.map((g, r) => ({ data: labels.map(k => muts[r].includes(k) ? [r, r + 1] : null),
      backgroundColor: '#000', barPercentage: 1, categoryPercentage: 1, borderWidth: 0, grouped: false })) },
    options: { animation: false, responsive: false, events: [], layout: { padding: 0 },
      plugins: { legend: { display: false }, tooltip: { enabled: false } },
      scales: { x: { display: false }, y: { display: false, min: 0, max: genes.length, reverse: true } } },
    plugins: [grayBg]
  });
  genes.forEach((g, r) => {
    const y = t + ch.scales.y.getPixelForValue(r + 0.5);
    txt(l - 4, y, g, { size: 8.5, italic: true, align: 'right' });
    txt(cols[0], y, cols[1][r], { size: 8.5, align: 'left' });
    txt(cols[2], y, cols[3][r], { size: 8.5, align: 'left' });
    txt(cols[4], y, cols[5][r], { size: 8.5, align: 'left' });
  });
  return ch;
}
txt(293, 489, 'f', { size: 15, bold: true });
txt(446, 486, 'Uterine', { size: 12 });
bar1(358, 494, 196, 8, fUtSurv.map(survColor));
txt(303, 498, `<span style="font-size:13px;vertical-align:-0.2em">∫</span><span style="font-size:6.5px">Survival d(dose)</span>`, { align: 'left' });
heat(358, 509, 196, 49, fUtGenes, fUtMut, fUtSurv, [558, fUtIC, 588, fUtP, 630, fUtFDR]);
txt(572, 502, 'IC', { size: 9.5 }); txt(605, 502, '<i>P</i> value', { size: 9.5 }); txt(639, 502, 'FDR', { size: 9.5 });

txt(454, 567, 'Colorectal', { size: 12 });
bar1(356, 573, 196, 8, fCoSurv.map(survColor));
txt(303, 577, `<span style="font-size:13px;vertical-align:-0.2em">∫</span><span style="font-size:6.5px">Survival d(dose)</span>`, { align: 'left' });
heat(356, 589, 196, 62, fCoGenes, fCoMut, fCoSurv, [558, fCoIC, 589, fCoP, 630, fCoFDR]);
txt(572, 583, 'IC', { size: 9.5 }); txt(606, 583, '<i>P</i> value', { size: 9.5 }); txt(641, 583, 'FDR', { size: 9.5 });
txt(510, 659, '<span style="display:inline-block;width:4px;height:7px;background:#000;vertical-align:-1px"></span> = Mutation', { size: 8, align: 'left' });
</script></body></html>
